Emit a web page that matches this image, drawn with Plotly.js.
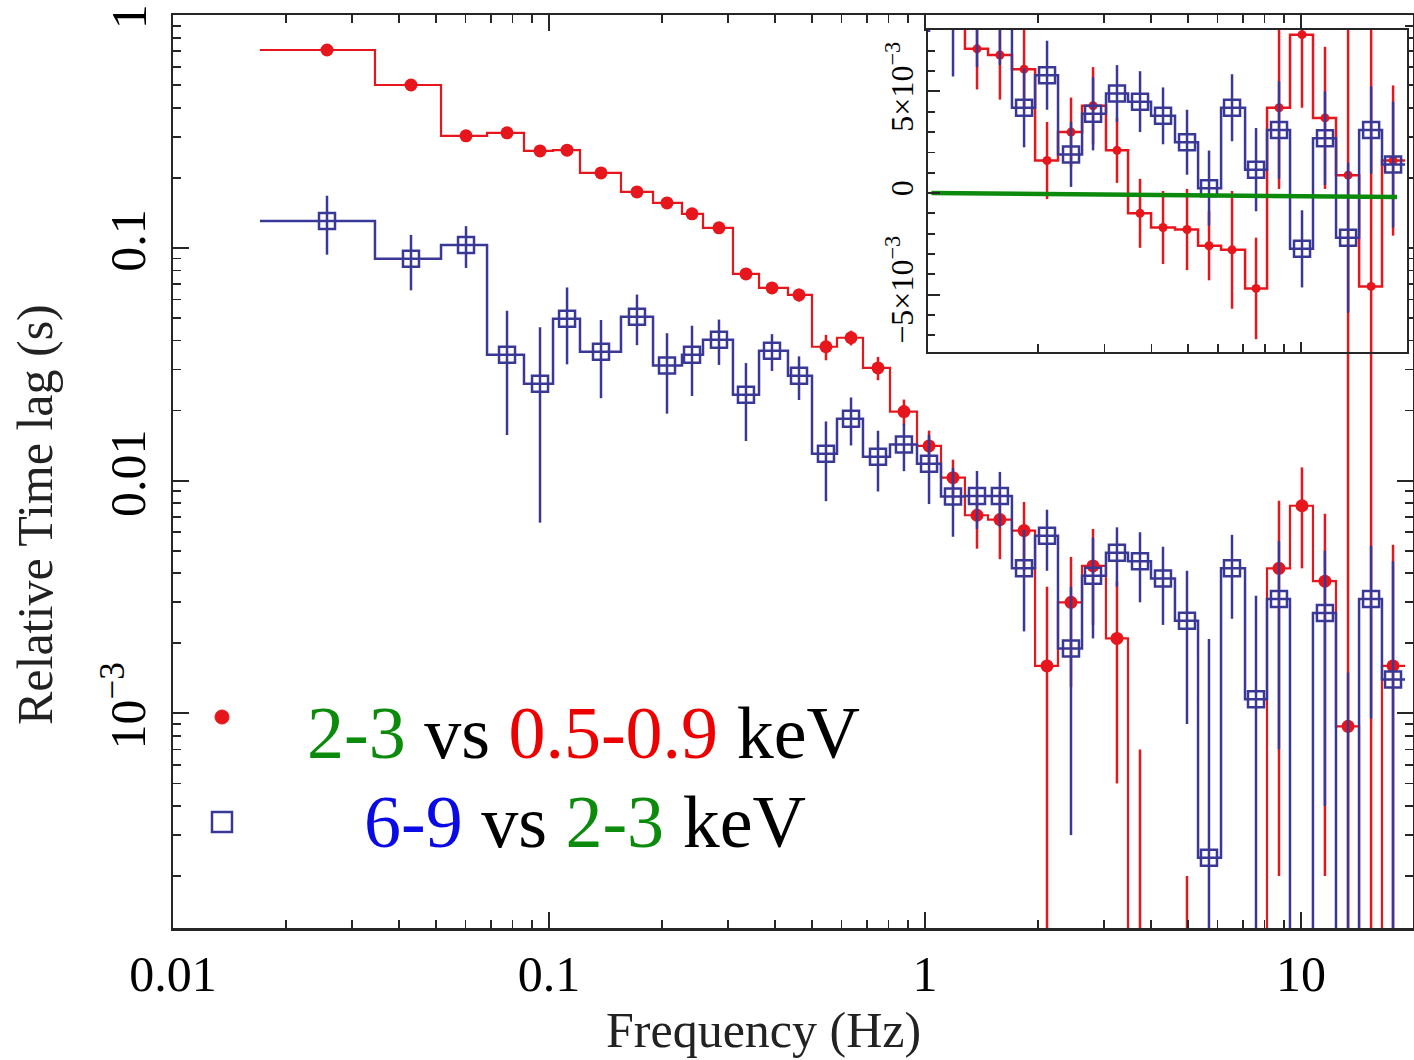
<!DOCTYPE html>
<html><head><meta charset="utf-8">
<script src="https://cdn.plot.ly/plotly-3.0.1.min.js"></script>
<style>html,body{margin:0;padding:0;background:#fff;} #chart{width:1414px;height:1060px;}</style>
</head><body><div id="chart"></div>
<script>
// ---- data ----
const binEdges = [0.01703, 0.03445, 0.05162, 0.06843, 0.0858, 0.1025, 0.1209, 0.1554, 0.1891, 0.2258,
  0.2568, 0.3085, 0.3619, 0.4321, 0.5006, 0.5834, 0.684, 0.8071, 0.9522, 1.103,
  1.277, 1.471, 1.703, 1.962, 2.258, 2.616, 3.029, 3.467, 3.991, 4.622,
  5.323, 6.128, 7.098, 8.121, 9.348, 10.76, 12.39, 14.27, 16.42, 18.91];
const freq = [0.02568, 0.04295, 0.06016, 0.07733, 0.09465, 0.1117, 0.1375, 0.1714, 0.206, 0.2401,
  0.2832, 0.3341, 0.3918, 0.4623, 0.5453, 0.6357, 0.7499, 0.8791, 1.025, 1.187,
  1.375, 1.582, 1.834, 2.111, 2.445, 2.798, 3.24, 3.731, 4.295, 4.975,
  5.692, 6.554, 7.592, 8.739, 10.06, 11.58, 13.34, 15.36, 17.57];
const redLag = [0.708, 0.501, 0.303, 0.312, 0.261, 0.263, 0.210, 0.174, 0.156, 0.140,
  0.122, 0.0773, 0.0673, 0.0628, 0.0376, 0.0411, 0.0305, 0.0198, 0.0141, 0.0103,
  0.0071, 0.0068, 0.0061, 0.0016, 0.0030, 0.0043, 0.0021, -0.0010, -0.0017, -0.0018,
  -0.0026, -0.0028, -0.0047, 0.0042, 0.0078, 0.0037, 0.00088, -0.0046, 0.0016];
const redErr = [0.02, 0.012, 0.008, 0.008, 0.007, 0.007, 0.006, 0.005, 0.005, 0.0045,
  0.004, 0.004, 0.004, 0.004, 0.0047, 0.003, 0.0035, 0.0025, 0.0023, 0.002,
  0.002, 0.0022, 0.002, 0.0019, 0.0017, 0.0019, 0.0016, 0.0017, 0.0018, 0.002,
  0.0017, 0.0029, 0.0025, 0.004, 0.0036, 0.0035, 0.1, 0.1, 0.0037];
const blueLag = [0.1305, 0.0897, 0.103, 0.0347, 0.0261, 0.0496, 0.0358, 0.0506, 0.0312, 0.0347,
  0.0403, 0.0234, 0.0361, 0.0282, 0.01306, 0.01846, 0.01268, 0.01428, 0.01183, 0.00854,
  0.0086, 0.0086, 0.0042, 0.0058, 0.0019, 0.0039, 0.0049, 0.0045, 0.0038, 0.0025,
  0.00024, 0.0042, 0.00115, 0.0031, -0.00275, 0.0027, -0.0022, 0.0031, 0.0014];
const blueErr = [0.037, 0.024, 0.021, 0.019, 0.0195, 0.018, 0.0132, 0.0124, 0.0118, 0.0116,
  0.0089, 0.0086, 0.0065, 0.006, 0.0049, 0.0043, 0.0037, 0.0033, 0.0039, 0.0028,
  0.0024, 0.0023, 0.00195, 0.0017, 0.0016, 0.0018, 0.0014, 0.0015, 0.0014, 0.0016,
  0.00185, 0.00165, 0.00205, 0.0024, 0.0019, 0.0023, 0.0037, 0.00215, 0.0031];
const zeroLineX = [1.04, 18.0];
const zeroLineY = [0, -0.0002];
const mainYTickVals = [0.001, 0.01, 0.1, 1];
const mainYTickText = ['10<sup>\u22123</sup>', '0.01', '0.1', ''];
const topYTickLabel = '1';
const insetYTickVals = [-0.005, 0, 0.005];
const insetYTickText = ['\u22125\u00d710<sup>\u22123</sup>', '0', '5\u00d710<sup>\u22123</sup>'];

// ---- styling ----
const RED = '#e6161c';
const BLUE = '#3a3896';
const GREEN = '#0c8a0c';
const AX = '#262626';
const FONT = 'Liberation Serif, Times New Roman, serif';
const LOG_FLOOR = 1e-7;

function stepLine(vals, clip) {
  const x = [], y = [];
  for (let i = 0; i < vals.length; i++) {
    x.push(binEdges[i]);
    y.push(clip ? Math.max(vals[i], LOG_FLOOR) : vals[i]);
  }
  x.push(binEdges[vals.length]);
  y.push(y[y.length - 1]);
  return {x, y};
}
function errSegs(vals, errs, clip) {
  const x = [], y = [];
  for (let i = 0; i < vals.length; i++) {
    let lo = vals[i] - errs[i], hi = vals[i] + errs[i];
    if (clip) { if (hi <= 0) continue; lo = Math.max(lo, LOG_FLOOR); }
    x.push(freq[i], freq[i], null);
    y.push(lo, hi, null);
  }
  return {x, y};
}

function seriesTraces(vals, errs, color, lw, marker, clip, xa, ya) {
  const s = stepLine(vals, clip), e = errSegs(vals, errs, clip);
  return [
    {x: s.x, y: s.y, mode: 'lines', line: {color: color, width: lw, shape: 'hv'}, xaxis: xa, yaxis: ya},
    {x: e.x, y: e.y, mode: 'lines', line: {color: color, width: 2.5}, xaxis: xa, yaxis: ya},
    {x: freq, y: vals, mode: 'markers', marker: marker, xaxis: xa, yaxis: ya}
  ];
}

const redMarkerMain = {symbol: 'circle', size: 13, color: RED, line: {width: 0}};
const redMarkerInset = {symbol: 'circle', size: 9, color: RED, line: {width: 0}};
const blueMarker = {symbol: 'square-open', size: 16, color: BLUE, line: {width: 2.5, color: BLUE}};

const traces = [].concat(
  seriesTraces(redLag, redErr, RED, 2.2, redMarkerMain, true, 'x', 'y'),
  seriesTraces(blueLag, blueErr, BLUE, 2.5, blueMarker, true, 'x', 'y'),
  seriesTraces(redLag, redErr, RED, 2.5, redMarkerInset, false, 'x2', 'y2'),
  seriesTraces(blueLag, blueErr, BLUE, 2.5, blueMarker, false, 'x2', 'y2'),
  [{x: zeroLineX, y: zeroLineY, mode: 'lines', line: {color: GREEN, width: 4.5}, xaxis: 'x2', yaxis: 'y2'}]
);

const baseAxis = {
  showline: true, linecolor: AX, linewidth: 2.5, mirror: 'allticks',
  ticks: 'inside', tickcolor: AX, tickwidth: 2, showgrid: false, zeroline: false
};

const layout = {
  width: 1414, height: 1060,
  margin: {l: 173, r: 1, t: 15, b: 132, pad: 0},
  paper_bgcolor: '#ffffff', plot_bgcolor: '#ffffff',
  showlegend: false, hovermode: false,
  font: {family: FONT, color: '#000'},
  xaxis: Object.assign({}, baseAxis, {
    type: 'log', range: [-2, 1.2979], domain: [0, 1], anchor: 'y',
    tickmode: 'linear', tick0: 0, dtick: 1, ticklen: 16,
    ticklabeloverflow: 'allow',
    tickfont: {size: 50, family: FONT, color: '#000'},
    minor: {ticks: 'inside', ticklen: 8, tickwidth: 1.8, tickcolor: AX, dtick: 'D1', showgrid: false}
  }),
  yaxis: Object.assign({}, baseAxis, {
    type: 'log', range: [-3.922, 0.0005], domain: [0, 1], anchor: 'x',
    tickmode: 'array', tickvals: mainYTickVals, ticktext: mainYTickText, ticklen: 16, tickangle: -90,
    ticklabelstandoff: 6, ticklabeloverflow: 'allow',
    tickfont: {size: 50, family: FONT, color: '#000'},
    minor: {ticks: 'inside', ticklen: 8, tickwidth: 1.8, tickcolor: AX, tickmode: 'linear', dtick: 'D1', showgrid: false}
  }),
  xaxis2: Object.assign({}, baseAxis, {
    type: 'log', range: [0.008, 1.2819], domain: [0.6089, 0.9952], anchor: 'y2',
    mirror: true, linewidth: 2.2, showticklabels: false,
    tickmode: 'linear', tick0: 0, dtick: 1, ticklen: 10,
    minor: {ticks: 'inside', ticklen: 8, tickwidth: 1.8, tickcolor: AX, dtick: 'D1', showgrid: false}
  }),
  yaxis2: Object.assign({}, baseAxis, {
    range: [-0.00783, 0.00803], domain: [0.6309, 0.9836], anchor: 'x2',
    mirror: true, linewidth: 2.2, tickmode: 'array', tickvals: insetYTickVals, ticktext: insetYTickText,
    tickangle: -90, ticklen: 12,
    tickfont: {size: 32, family: FONT, color: '#000'},
    minor: {ticks: 'inside', ticklen: 7, tickwidth: 1.8, tickcolor: AX, tickmode: 'linear', tick0: 0, dtick: 0.001, showgrid: false}
  }),
  annotations: [
    {xref: 'paper', yref: 'paper', x: -0.0355, y: 0.9985, xanchor: 'center', yanchor: 'middle',
     text: topYTickLabel, textangle: -90, showarrow: false, borderpad: 0,
     font: {size: 50, family: FONT, color: '#000'}},
    {xref: 'paper', yref: 'paper', x: -0.1113, y: 0.4534, xanchor: 'center', yanchor: 'middle',
     text: 'Relative Time lag (s)', textangle: -90, showarrow: false, font: {size: 50, family: FONT, color: '#222'}},
    {xref: 'paper', yref: 'paper', x: 0.4766, y: -0.1117, xanchor: 'center', yanchor: 'middle',
     text: 'Frequency (Hz)', showarrow: false, font: {size: 50, family: FONT, color: '#222'}},
    {xref: 'paper', yref: 'paper', x: 0.1065, y: 0.2136, xanchor: 'left', yanchor: 'middle', showarrow: false,
     text: '<span style="color:' + GREEN + '">2-3</span> vs <span style="color:#ee0000">0.5-0.9</span> keV',
     font: {size: 74, family: FONT, color: '#000'}},
    {xref: 'paper', yref: 'paper', x: 0.1524, y: 0.1161, xanchor: 'left', yanchor: 'middle', showarrow: false,
     text: '<span style="color:#0a0ae6">6-9</span> vs <span style="color:' + GREEN + '">2-3</span> keV',
     font: {size: 74, family: FONT, color: '#000'}},
    {xref: 'paper', yref: 'paper', x: 0.981, y: -0.1604, xanchor: 'left', yanchor: 'top', showarrow: false,
     text: 'LI', font: {size: 50, family: FONT, color: '#0a6a0a'}}
  ],
  shapes: [
    {type: 'circle', xref: 'paper', yref: 'paper', x0: 0.03387, x1: 0.04516, y0: 0.2234, y1: 0.2388,
     fillcolor: RED, line: {color: RED, width: 1}},
    {type: 'rect', xref: 'paper', yref: 'paper', x0: 0.03145, x1: 0.04758, y0: 0.1051, y1: 0.1271,
     fillcolor: 'rgba(0,0,0,0)', line: {color: BLUE, width: 2.5}}
  ]
};

Plotly.newPlot('chart', traces, layout, {staticPlot: true, displayModeBar: false});
</script>
</body></html>
